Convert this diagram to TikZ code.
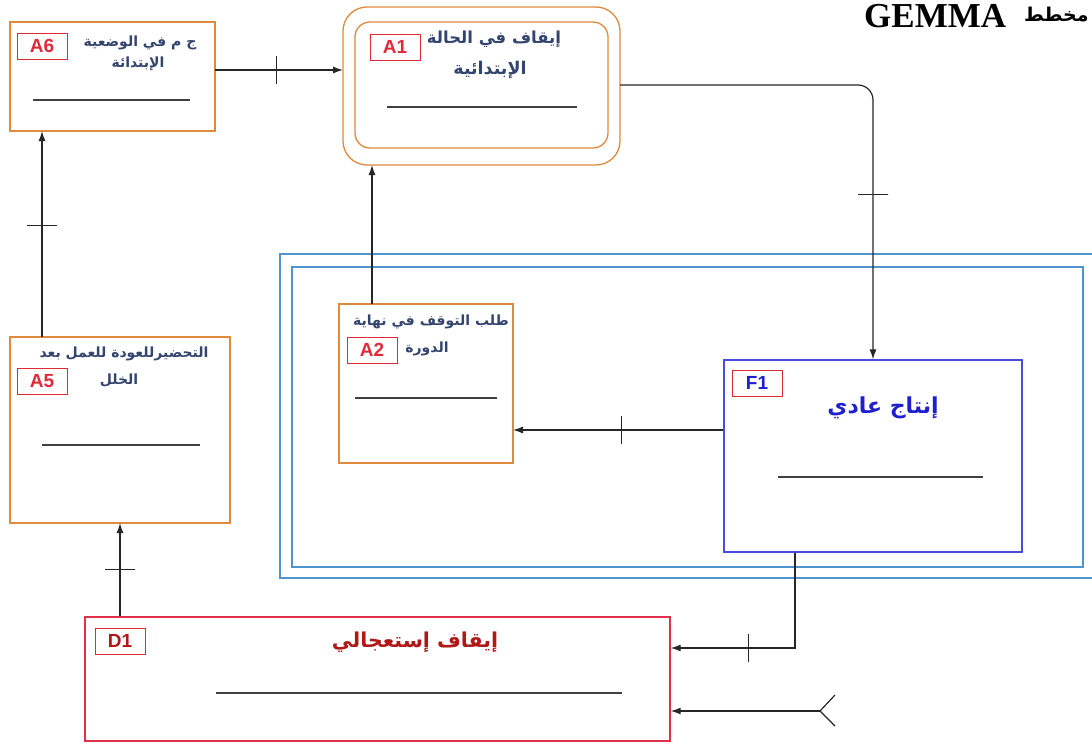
\documentclass[tikz,border=0pt]{standalone}
\usepackage{fontspec}
\setmainfont{Liberation Serif}
\newfontfamily\arabicfont[Script=Arabic]{DejaVu Sans}
\newfontfamily\tagfont{Liberation Sans}
\TeXXeTstate=1
\newcommand\artext[1]{\arabicfont\beginR #1\endR}
\usetikzlibrary{arrows.meta}
\definecolor{stepedge}{HTML}{E08A3E}
\definecolor{tagred}{HTML}{E02A3A}
\definecolor{titlenavy}{HTML}{33446E}
\definecolor{prodblue}{HTML}{4B4BE0}
\definecolor{prodtext}{HTML}{1F1FD0}
\definecolor{urgred}{HTML}{E0304A}
\definecolor{urgtext}{HTML}{B01818}
\definecolor{zoneblue}{HTML}{4F93CF}
\begin{document}
\begin{tikzpicture}[x=1pt,y=-1pt,
  stepbox/.style={draw=stepedge,line width=1.3pt,fill=white,inner sep=0pt,outer sep=0pt,rectangle},
  tagbox/.style={draw=tagred,fill=white,line width=1pt,minimum width=50pt,minimum height=26pt,inner sep=0pt,
    font=\tagfont\bfseries\fontsize{19}{19}\selectfont,text=tagred},
  steptitle/.style={text=titlenavy,inner sep=0pt,font=\bfseries\fontsize{14}{16}\selectfont},
  rulebar/.style={line width=1.4pt,draw=black!75},
  flow/.style={-{Latex[length=10pt,width=7pt]},line width=1.2pt,draw=black!85},
  vtick/.style={draw=black!85,line width=1.2pt,sharp corners,rectangle,minimum width=0pt,minimum height=28pt,inner sep=0pt,outer sep=0pt},
  htick/.style={draw=black!85,line width=1.2pt,sharp corners,rectangle,minimum width=30pt,minimum height=0pt,inner sep=0pt,outer sep=0pt},
  zone/.style={draw=zoneblue,line width=1.6pt}
]
\clip (0,0) rectangle (1092,744);
\useasboundingbox (0,0) rectangle (1092,744);
\fill[white] (0,0) rectangle (1092,744);

% production zone (double frame)
\draw[zone] (280,254) rectangle (1100,578);
\draw[zone] (292,267) rectangle (1083,567);

% step boxes
\node[stepbox,minimum width=205pt,minimum height=109pt] (A6) at (112.5,76.5) {};
\node[stepbox,rounded corners=24pt,minimum width=277pt,minimum height=158pt] (A1) at (481.5,86) {};
\node[stepbox,rounded corners=15pt,minimum width=253pt,minimum height=126pt] (A1in) at (481.5,85) {};
\node[stepbox,minimum width=174pt,minimum height=159pt] (A2) at (426,383.5) {};
\node[stepbox,minimum width=220pt,minimum height=186pt] (A5) at (120,430) {};
\node[draw=prodblue,line width=1.3pt,fill=white,inner sep=0pt,minimum width=298pt,minimum height=192pt] (F1) at (873,456) {};
\node[draw=urgred,line width=1.4pt,fill=white,inner sep=0pt,minimum width=585pt,minimum height=124pt] (D1) at (377.5,679) {};

% tags
\node[tagbox] (tA6) at (42,46) {A6};
\node[tagbox] (tA1) at (395,47) {A1};
\node[tagbox] (tA2) at (372,350) {A2};
\node[tagbox] (tA5) at (42,381) {A5};
\node[tagbox,text=prodtext] (tF1) at (757,383) {F1};
\node[tagbox,text=urgtext] (tD1) at (120,641) {D1};

% step titles
\node[steptitle] (A6a) at (140,43) {\artext{ج م في الوضعية}};
\node[steptitle] (A6b) at (138,64) {\artext{الإبتدائة}};
\node[steptitle,font=\bfseries\fontsize{16.5}{18}\selectfont] (A1a) at (494,39) {\artext{إيقاف في الحالة}};
\node[steptitle,font=\bfseries\fontsize{17.5}{19}\selectfont] (A1b) at (490,70) {\artext{الإبتدائية}};
\node[steptitle] (A2a) at (431,322) {\artext{طلب التوقف في نهاية}};
\node[steptitle] (A2b) at (427,349) {\artext{الدورة}};
\node[steptitle] (A5a) at (124,354) {\artext{التحضيرللعودة للعمل بعد}};
\node[steptitle] (A5b) at (119,380) {\artext{الخلل}};
\node[inner sep=0pt,text=prodtext,font=\bfseries\fontsize{22}{24}\selectfont] (F1a) at (883,408) {\artext{إنتاج عادي}};
\node[inner sep=0pt,text=urgtext,font=\bfseries\fontsize{20.5}{22}\selectfont] (D1a) at (415,642) {\artext{إيقاف إستعجالي}};

% blank lines for the actions
\draw[rulebar] (33,100) -- (190,100);
\draw[rulebar] (387,107) -- (577,107);
\draw[rulebar] (355,398) -- (497,398);
\draw[rulebar] (42,445) -- (200,445);
\draw[rulebar] (778,477) -- (983,477);
\draw[rulebar] (216,693) -- (622,693);

% title
\node[anchor=west,inner sep=0pt,font=\bfseries\fontsize{35}{37}\selectfont] (ttl) at (864,16) {GEMMA};
\node[anchor=west,inner sep=0pt,font=\arabicfont\bfseries\fontsize{19}{21}\selectfont] (ttlar) at (1024,15) {\artext{مخطط}};

% transitions
\draw[flow] (A6.east |- 0,70) -- node[vtick,pos=0.48] {} (A1.west |- 0,70);
\draw[flow,rounded corners=15pt] (A1.east |- 0,85) -| node[htick,pos=0.7] {} (F1.north);
\draw[flow] (A2.north -| 372,0) -- (A1.south -| 372,0);
\draw[flow] (F1.west |- 0,430) -- node[vtick,pos=0.483] {} (A2.east |- 0,430);
\draw[flow] (A5.north -| 42,0) -- node[htick,pos=0.54] {} (A6.south -| 42,0);
\draw[flow] (D1.north -| 120,0) -- node[htick,pos=0.5] {} (A5.south -| 120,0);
\draw[flow] (F1.south -| 795,0) |- node[vtick,pos=0.688] {} (D1.east |- 0,648);

% initial request from outside
\coordinate (ext) at (820,711);
\draw[flow] (ext) -- (D1.east |- ext);
\draw[line width=1.2pt,draw=black!85] (835,695) -- (ext) -- (835,726);
\end{tikzpicture}
\end{document}
